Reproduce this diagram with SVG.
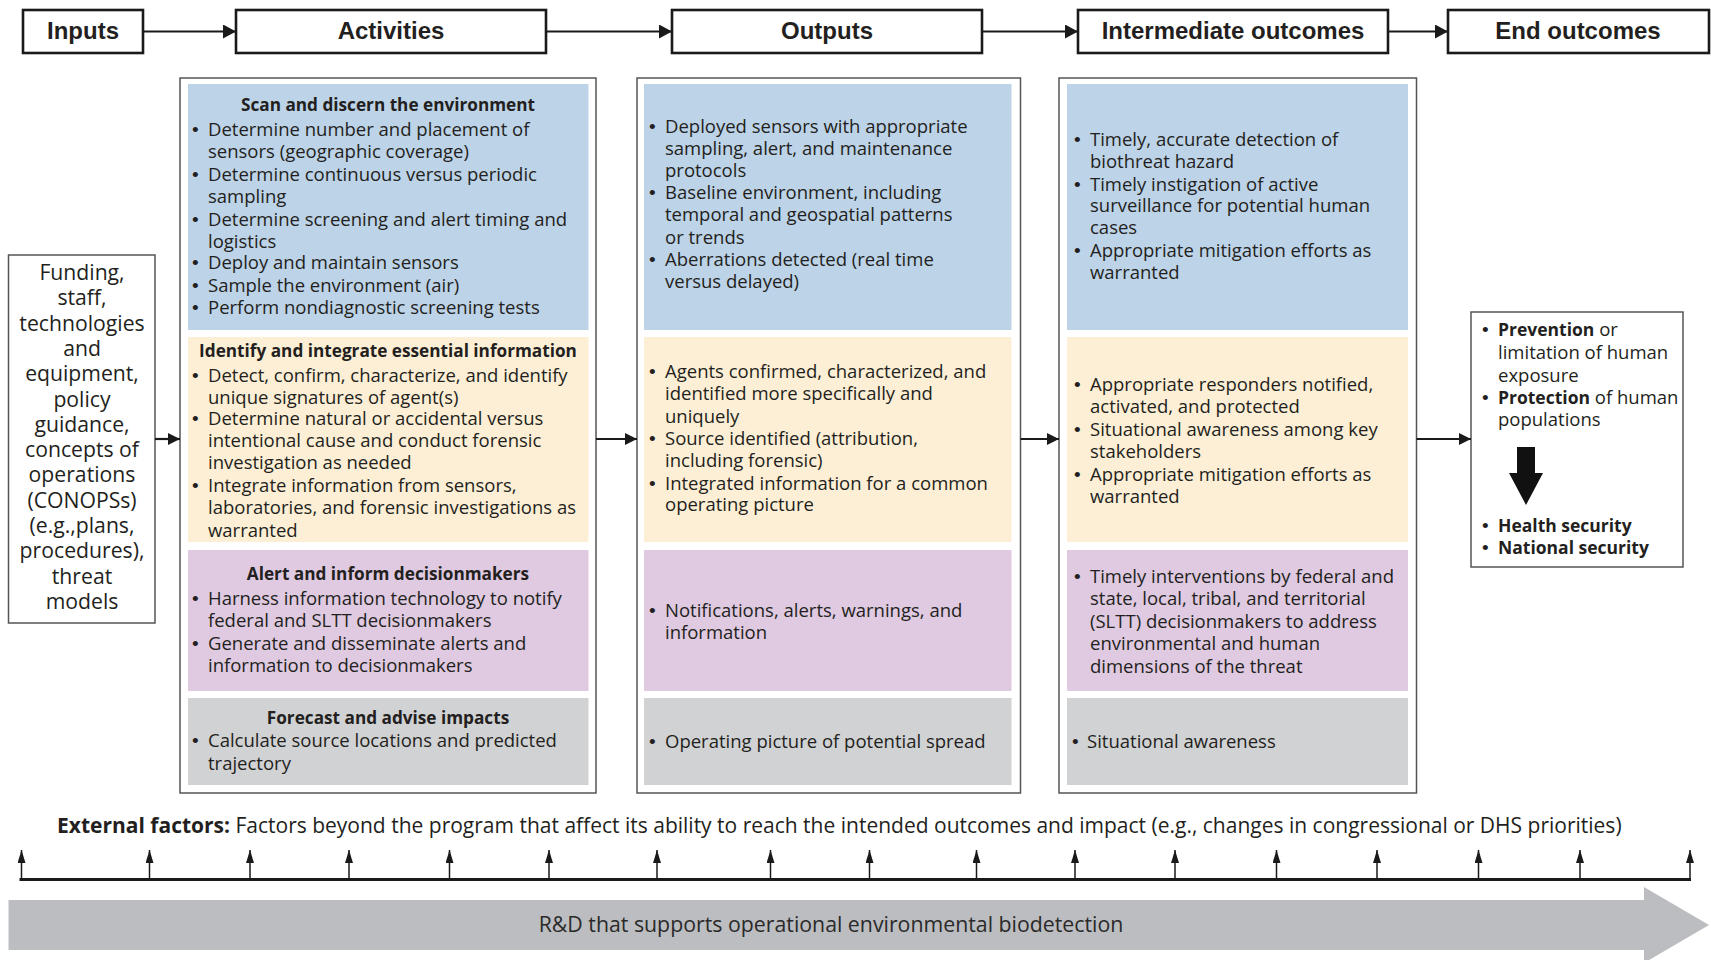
<svg xmlns="http://www.w3.org/2000/svg" width="1711" height="960" viewBox="0 0 1711 960">
<defs>
<style>
.hb{fill:#fff;stroke:#1a1a1a;stroke-width:2.6}
.ht{font-family:"Liberation Sans",Arial,sans-serif;font-weight:bold;font-size:24px;fill:#231f20;text-anchor:middle}
.col{fill:#fff;stroke:#555;stroke-width:1.5}
.blue{fill:#bdd3e8}
.yel{fill:#fdefd6}
.pur{fill:#dfcae1}
.gry{fill:#d1d2d4}
.t{font-family:"Open Sans","Noto Sans",sans-serif;font-size:18.5px;fill:#231f20}
.ext{font-family:"Open Sans","Noto Sans",sans-serif;font-size:21px;fill:#231f20}
.b{font-family:"Liberation Sans",Arial,sans-serif;font-size:19px}
.bd{font-weight:bold;font-size:17.5px}
.h{font-family:"Open Sans","Noto Sans",sans-serif;font-size:17.2px;font-weight:bold;fill:#231f20;text-anchor:middle}
.inp{font-family:"Open Sans","Noto Sans",sans-serif;font-size:21.2px;fill:#231f20;text-anchor:middle}
.ln{stroke:#1a1a1a;stroke-width:2.2;fill:none}
.tk{stroke:#1a1a1a;stroke-width:1.5;fill:none}
</style>
<marker id="ah" markerUnits="userSpaceOnUse" markerWidth="13" markerHeight="14" refX="13" refY="7" orient="auto"><path d="M0,0 L13,7 L0,14 Z" fill="#1a1a1a"/></marker>
<marker id="as" markerUnits="userSpaceOnUse" markerWidth="12" markerHeight="12" refX="12" refY="6" orient="auto"><path d="M0,0 L12,6 L0,12 Z" fill="#1a1a1a"/></marker>
<marker id="at" markerUnits="userSpaceOnUse" markerWidth="13" markerHeight="8" refX="13" refY="4" orient="auto"><path d="M0,0 L13,4 L0,8 Z" fill="#1a1a1a"/></marker>
</defs>
<rect x="0" y="0" width="1711" height="960" fill="#fff"/>

<g id="hdr-inputs"><rect class="hb" x="23" y="10" width="120" height="43"/><text class="ht" x="83" y="39">Inputs</text></g>
<g id="hdr-activities"><rect class="hb" x="236" y="10" width="310" height="43"/><text class="ht" x="391" y="39">Activities</text></g>
<g id="hdr-outputs"><rect class="hb" x="672" y="10" width="310" height="43"/><text class="ht" x="827" y="39">Outputs</text></g>
<g id="hdr-intermediate"><rect class="hb" x="1078" y="10" width="310" height="43"/><text class="ht" x="1233" y="39">Intermediate outcomes</text></g>
<g id="hdr-end"><rect class="hb" x="1448" y="10" width="261" height="43"/><text class="ht" x="1578" y="39">End outcomes</text></g>

<g id="inputs">
<rect class="col" x="8.5" y="255" width="146.5" height="368"/>
<text class="inp"><tspan x="82" y="280">Funding,</tspan><tspan x="82" y="305.3">staff,</tspan><tspan x="82" y="330.6">technologies</tspan><tspan x="82" y="355.9">and</tspan><tspan x="82" y="381.2">equipment,</tspan><tspan x="82" y="406.5">policy</tspan><tspan x="82" y="431.8">guidance,</tspan><tspan x="82" y="457.1">concepts of</tspan><tspan x="82" y="482.4">operations</tspan><tspan x="82" y="507.7">(CONOPSs)</tspan><tspan x="82" y="533">(e.g.,plans,</tspan><tspan x="82" y="558.3">procedures),</tspan><tspan x="82" y="583.6">threat</tspan><tspan x="82" y="608.9">models</tspan></text>
</g>

<g id="activities">
<rect class="col" x="180" y="78" width="416" height="715"/>
<rect class="blue" x="188" y="84" width="400.5" height="246"/>
<rect class="yel" x="188" y="337" width="400.5" height="205"/>
<rect class="pur" x="188" y="550" width="400.5" height="141"/>
<rect class="gry" x="188" y="698" width="400.5" height="87"/>
<text class="h" x="388" y="111">Scan and discern the environment</text>
<text class="t">
<tspan class="b" x="192" y="136">•</tspan><tspan x="208">Determine number and placement of</tspan>
<tspan x="208" y="158">sensors (geographic coverage)</tspan>
<tspan class="b" x="192" y="181">•</tspan><tspan x="208">Determine continuous versus periodic</tspan>
<tspan x="208" y="202.5">sampling</tspan>
<tspan class="b" x="192" y="225.5">•</tspan><tspan x="208">Determine screening and alert timing and</tspan>
<tspan x="208" y="247.5">logistics</tspan>
<tspan class="b" x="192" y="269">•</tspan><tspan x="208">Deploy and maintain sensors</tspan>
<tspan class="b" x="192" y="292">•</tspan><tspan x="208">Sample the environment (air)</tspan>
<tspan class="b" x="192" y="314">•</tspan><tspan x="208">Perform nondiagnostic screening tests</tspan>
</text>
<text class="h" x="388" y="356.5">Identify and integrate essential information</text>
<text class="t">
<tspan class="b" x="192" y="381.5">•</tspan><tspan x="208">Detect, confirm, characterize, and identify</tspan>
<tspan x="208" y="403.5">unique signatures of agent(s)</tspan>
<tspan class="b" x="192" y="425">•</tspan><tspan x="208">Determine natural or accidental versus</tspan>
<tspan x="208" y="447">intentional cause and conduct forensic</tspan>
<tspan x="208" y="469">investigation as needed</tspan>
<tspan class="b" x="192" y="491.5">•</tspan><tspan x="208">Integrate information from sensors,</tspan>
<tspan x="208" y="513.5">laboratories, and forensic investigations as</tspan>
<tspan x="208" y="536.5">warranted</tspan>
</text>
<text class="h" x="388" y="580">Alert and inform decisionmakers</text>
<text class="t">
<tspan class="b" x="192" y="605">•</tspan><tspan x="208">Harness information technology to notify</tspan>
<tspan x="208" y="627">federal and SLTT decisionmakers</tspan>
<tspan class="b" x="192" y="650">•</tspan><tspan x="208">Generate and disseminate alerts and</tspan>
<tspan x="208" y="672">information to decisionmakers</tspan>
</text>
<text class="h" x="388" y="724">Forecast and advise impacts</text>
<text class="t">
<tspan class="b" x="192" y="747">•</tspan><tspan x="208">Calculate source locations and predicted</tspan>
<tspan x="208" y="770">trajectory</tspan>
</text>
</g>

<g id="outputs">
<rect class="col" x="637" y="78" width="383.5" height="715"/>
<rect class="blue" x="644" y="84" width="367.5" height="246"/>
<rect class="yel" x="644" y="337" width="367.5" height="205"/>
<rect class="pur" x="644" y="550" width="367.5" height="141"/>
<rect class="gry" x="644" y="698" width="367.5" height="87"/>
<text class="t">
<tspan class="b" x="649" y="133">•</tspan><tspan x="665">Deployed sensors with appropriate</tspan>
<tspan x="665" y="154.5">sampling, alert, and maintenance</tspan>
<tspan x="665" y="176.5">protocols</tspan>
<tspan class="b" x="649" y="199">•</tspan><tspan x="665">Baseline environment, including</tspan>
<tspan x="665" y="221">temporal and geospatial patterns</tspan>
<tspan x="665" y="244">or trends</tspan>
<tspan class="b" x="649" y="266">•</tspan><tspan x="665">Aberrations detected (real time</tspan>
<tspan x="665" y="287.5">versus delayed)</tspan>
</text>
<text class="t">
<tspan class="b" x="649" y="378">•</tspan><tspan x="665">Agents confirmed, characterized, and</tspan>
<tspan x="665" y="400">identified more specifically and</tspan>
<tspan x="665" y="423">uniquely</tspan>
<tspan class="b" x="649" y="445">•</tspan><tspan x="665">Source identified (attribution,</tspan>
<tspan x="665" y="466.5">including forensic)</tspan>
<tspan class="b" x="649" y="489.5">•</tspan><tspan x="665">Integrated information for a common</tspan>
<tspan x="665" y="511">operating picture</tspan>
</text>
<text class="t">
<tspan class="b" x="649" y="617">•</tspan><tspan x="665">Notifications, alerts, warnings, and</tspan>
<tspan x="665" y="639">information</tspan>
</text>
<text class="t"><tspan class="b" x="649" y="748">•</tspan><tspan x="665">Operating picture of potential spread</tspan></text>
</g>

<g id="intermediate">
<rect class="col" x="1059" y="78" width="357.5" height="715"/>
<rect class="blue" x="1067" y="84" width="341" height="246"/>
<rect class="yel" x="1067" y="337" width="341" height="205"/>
<rect class="pur" x="1067" y="550" width="341" height="141"/>
<rect class="gry" x="1067" y="698" width="341" height="87"/>
<text class="t">
<tspan class="b" x="1074" y="146">•</tspan><tspan x="1090">Timely, accurate detection of</tspan>
<tspan x="1090" y="167.5">biothreat hazard</tspan>
<tspan class="b" x="1074" y="190.5">•</tspan><tspan x="1090">Timely instigation of active</tspan>
<tspan x="1090" y="212">surveillance for potential human</tspan>
<tspan x="1090" y="234">cases</tspan>
<tspan class="b" x="1074" y="257">•</tspan><tspan x="1090">Appropriate mitigation efforts as</tspan>
<tspan x="1090" y="279">warranted</tspan>
</text>
<text class="t">
<tspan class="b" x="1074" y="391">•</tspan><tspan x="1090">Appropriate responders notified,</tspan>
<tspan x="1090" y="413">activated, and protected</tspan>
<tspan class="b" x="1074" y="436">•</tspan><tspan x="1090">Situational awareness among key</tspan>
<tspan x="1090" y="458">stakeholders</tspan>
<tspan class="b" x="1074" y="481">•</tspan><tspan x="1090">Appropriate mitigation efforts as</tspan>
<tspan x="1090" y="502.5">warranted</tspan>
</text>
<text class="t">
<tspan class="b" x="1074" y="583">•</tspan><tspan x="1090">Timely interventions by federal and</tspan>
<tspan x="1090" y="605">state, local, tribal, and territorial</tspan>
<tspan x="1090" y="628">(SLTT) decisionmakers to address</tspan>
<tspan x="1090" y="650">environmental and human</tspan>
<tspan x="1090" y="672.5">dimensions of the threat</tspan>
</text>
<text class="t"><tspan class="b" x="1072" y="748">•</tspan><tspan x="1087">Situational awareness</tspan></text>
</g>

<g id="end">
<rect class="col" x="1471" y="312" width="212" height="255"/>
<text class="t">
<tspan class="b" x="1482" y="336">•</tspan><tspan class="bd" x="1498">Prevention</tspan><tspan> or</tspan>
<tspan x="1498" y="359">limitation of human</tspan>
<tspan x="1498" y="381.5">exposure</tspan>
<tspan class="b" x="1482" y="403.5">•</tspan><tspan class="bd" x="1498">Protection</tspan><tspan> of human</tspan>
<tspan x="1498" y="426">populations</tspan>
</text>
<path d="M1517,447 H1535 V473 H1543 L1526,505 L1509,473 H1517 Z" fill="#111"/>
<text class="t">
<tspan class="b" x="1482" y="532">•</tspan><tspan class="bd" x="1498">Health security</tspan>
<tspan class="b" x="1482" y="554">•</tspan><tspan class="bd" x="1498">National security</tspan>
</text>
</g>

<g id="external">
<text class="ext" x="57" y="833"><tspan font-weight="bold">External factors:</tspan> Factors beyond the program that affect its ability to reach the intended outcomes and impact (e.g., changes in congressional or DHS priorities)</text>
</g>

<g id="rd-band">
<path d="M8.5,900 H1644 V887 L1709,925 L1644,963 V950 H8.5 Z" fill="#bcbdc0"/>
<text x="831" y="932" font-family="Open Sans, Noto Sans, sans-serif" font-size="21.3" fill="#2a2a2a" text-anchor="middle">R&amp;D that supports operational environmental biodetection</text>
</g>

<g id="connectors">
<line class="ln" x1="143" y1="31.5" x2="236" y2="31.5" marker-end="url(#ah)"/>
<line class="ln" x1="546" y1="31.5" x2="672" y2="31.5" marker-end="url(#ah)"/>
<line class="ln" x1="982" y1="31.5" x2="1078" y2="31.5" marker-end="url(#ah)"/>
<line class="ln" x1="1388" y1="31.5" x2="1448" y2="31.5" marker-end="url(#ah)"/>
<line class="ln" x1="155" y1="439" x2="180" y2="439" marker-end="url(#as)"/>
<line class="ln" x1="596" y1="439" x2="637" y2="439" marker-end="url(#as)"/>
<line class="ln" x1="1020.5" y1="439" x2="1059" y2="439" marker-end="url(#as)"/>
<line class="ln" x1="1416.5" y1="439" x2="1471" y2="439" marker-end="url(#as)"/>
<line x1="19.5" y1="879.5" x2="1691" y2="879.5" stroke="#1a1a1a" stroke-width="3.2"/>
<g class="tk">
<line x1="21.5" y1="879" x2="21.5" y2="850" marker-end="url(#at)"/>
<line x1="149.5" y1="879" x2="149.5" y2="850" marker-end="url(#at)"/>
<line x1="250" y1="879" x2="250" y2="850" marker-end="url(#at)"/>
<line x1="349" y1="879" x2="349" y2="850" marker-end="url(#at)"/>
<line x1="449.5" y1="879" x2="449.5" y2="850" marker-end="url(#at)"/>
<line x1="549" y1="879" x2="549" y2="850" marker-end="url(#at)"/>
<line x1="657" y1="879" x2="657" y2="850" marker-end="url(#at)"/>
<line x1="770.5" y1="879" x2="770.5" y2="850" marker-end="url(#at)"/>
<line x1="869.5" y1="879" x2="869.5" y2="850" marker-end="url(#at)"/>
<line x1="976.5" y1="879" x2="976.5" y2="850" marker-end="url(#at)"/>
<line x1="1075" y1="879" x2="1075" y2="850" marker-end="url(#at)"/>
<line x1="1175" y1="879" x2="1175" y2="850" marker-end="url(#at)"/>
<line x1="1276.5" y1="879" x2="1276.5" y2="850" marker-end="url(#at)"/>
<line x1="1377" y1="879" x2="1377" y2="850" marker-end="url(#at)"/>
<line x1="1478.5" y1="879" x2="1478.5" y2="850" marker-end="url(#at)"/>
<line x1="1580" y1="879" x2="1580" y2="850" marker-end="url(#at)"/>
<line x1="1690" y1="879" x2="1690" y2="850" marker-end="url(#at)"/>
</g>
</g>
</svg>
